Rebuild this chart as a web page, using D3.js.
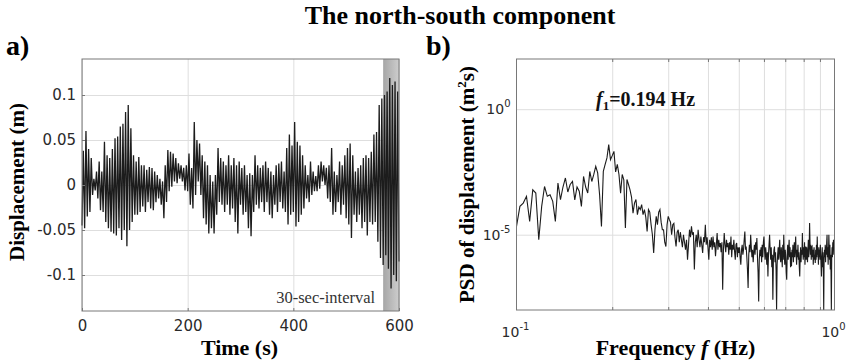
<!DOCTYPE html>
<html>
<head>
<meta charset="utf-8">
<script src="https://cdn.jsdelivr.net/npm/d3@7"></script>
<style>
  html, body { margin: 0; padding: 0; background: #fff; }
  svg { display: block; }
</style>
</head>
<body>
<svg id="chart" width="847" height="364"></svg>
<script>
// ---------------- DATA ----------------
// (a) displacement time series, sampled every 2.5 s from 0 to 600 s (m)
const timeStep = 2.5;
const displacement = [
  -0.045, 0.038, -0.048, 0.06, -0.035, 0.04, -0.03, 0.03, -0.011, 0.007,
  -0.006, 0.015, -0.015, 0.026, -0.028, 0.015, -0.03, 0.048, -0.041, 0.033,
  -0.048, 0.03, -0.052, 0.04, -0.054, 0.052, -0.056, 0.054, -0.048, 0.065,
  -0.061, 0.068, -0.05, 0.081, -0.068, 0.089, -0.05, 0.063, -0.041, 0.033,
  -0.033, 0.026, -0.033, 0.031, -0.03, 0.022, -0.024, 0.022, -0.03, 0.017,
  -0.019, 0.02, -0.026, 0.019, -0.028, 0.015, -0.019, 0.011, -0.015, 0.007,
  -0.022, 0.004, -0.037, 0.022, -0.019, 0.039, -0.007, 0.037, -0.002, 0.035,
  0.004, 0.03, 0.002, 0.024, 0.007, 0.022, 0.004, 0.019, -0.006, 0.022,
  -0.007, 0.035, -0.022, 0.019, -0.026, 0.07, -0.011, 0.05, 0.004, 0.046,
  -0.011, 0.033, -0.037, 0.026, -0.044, 0.022, -0.054, 0.011, -0.048, 0.004,
  -0.054, 0.011, -0.033, 0.041, -0.019, 0.03, -0.022, 0.026, -0.03, 0.022,
  -0.022, 0.033, -0.033, 0.022, -0.026, 0.03, -0.041, 0.022, -0.054, 0.026,
  -0.022, 0.019, -0.033, 0.022, -0.03, 0.011, -0.048, 0.013, -0.057, 0.011,
  -0.03, 0.033, -0.022, 0.022, -0.026, 0.019, -0.019, 0.022, -0.03, 0.026,
  -0.019, 0.019, -0.033, 0.015, -0.037, 0.011, -0.022, 0.022, -0.03, 0.024,
  -0.019, 0.026, -0.026, 0.015, -0.03, 0.041, -0.044, 0.056, -0.033, 0.044,
  -0.03, 0.07, -0.046, 0.048, -0.041, 0.044, -0.033, 0.033, -0.026, 0.022,
  -0.015, 0.011, -0.019, 0.026, -0.011, 0.015, -0.007, 0.01, -0.007, 0.022,
  -0.004, 0.026, 0.004, 0.022, 0.0, 0.019, -0.015, 0.022, -0.019, 0.041,
  -0.033, 0.015, -0.03, 0.011, -0.019, 0.026, -0.033, 0.022, -0.022, 0.033,
  -0.037, 0.041, -0.044, 0.046, -0.059, 0.033, -0.033, 0.015, -0.041, 0.019,
  -0.033, 0.022, -0.048, 0.03, -0.041, 0.033, -0.056, 0.03, -0.041, 0.037,
  -0.044, 0.056, -0.041, 0.059, -0.063, 0.089, -0.081, 0.096, -0.089, 0.1,
  -0.078, 0.104, -0.093, 0.119, -0.115, 0.111, -0.1, 0.115, -0.107, 0.104,
  -0.085
];
const intervalStart = 570, intervalEnd = 600;
const intervalLabel = "30-sec-interval";

// (b) PSD of displacement, log10 values, frequencies 0.1 .. 1.0 Hz every 0.0025 Hz
const freqStart = 0.1, freqStep = 0.0025;
const psdLog10 = [
  -4.67, -3.87, -3.74, -3.47, -4.47, -3.21, -3.34, -5.2, -3.87, -3.08,
  -3.47, -3.41, -3.67, -4.47, -2.94, -3.6, -3.1, -2.74, -3.3, -3.0,
  -2.88, -3.61, -3.1, -3.27, -3.87, -2.68, -3.1, -3.34, -2.48, -2.88,
  -2.6, -2.28, -2.54, -3.4, -4.67, -2.48, -2.2, -1.94, -1.41, -2.01,
  -1.85, -1.68, -2.5, -2.2, -2.6, -3.35, -2.6, -2.81, -4.73, -2.8,
  -3.0, -3.21, -3.5, -4.14, -3.74, -3.6, -4.2, -3.9, -4.0, -3.8,
  -4.2, -4.0, -4.3, -4.87, -4.0, -4.1, -4.6, -5.0, -5.73, -4.8,
  -4.27, -4.6, -4.1, -4.0, -4.5, -4.8, -4.8, -5.3, -5.47, -4.6, -4.27,
  -4.4, -4.5, -5.0, -4.6,   -4.55, -5.1, -5.47, -4.9,   -4.8, -5.3, -4.9, -5.2,
  -5.5, -5.0, -5.3, -5.6,   -5.2, -6.0, -5.4, -4.8,    -5.1, -4.67, -5.0, -4.9,
  -6.39, -5.3, -5.0, -5.5,  -4.8, -5.2, -5.5, -5.07,   -5.4, -5.73, -5.1, -5.3,
  -4.6, -5.4, -5.1, -5.5,   -6.0, -5.2, -5.5, -5.1,    -5.6, -5.07, -5.5, -5.3,
  -5.86, -5.4, -4.93, -5.6, -5.2, -5.5, -5.33, -5.7,   -5.3, -7.19, -5.6, -4.93,
  -5.4, -5.7, -5.2, -5.5,   -5.33, -5.8, -5.3, -5.6,   -5.07, -5.9, -5.4, -5.6,
  -5.2, -5.67, -6.0, -5.4,  -5.33, -5.9, -5.5, -5.73,  -5.5, -5.9, -6.2, -5.6,
  -5.4, -5.8, -5.6, -5.2,   -4.87, -5.6, -5.47, -5.9,  -6.4, -7.12, -5.8, -5.4,
  -5.7, -5.0, -5.5, -5.9,   -5.6, -6.1, -5.67, -5.4,   -5.8, -5.3, -5.6, -5.13,
  -5.9, -6.5, -7.66, -6.0,  -5.6, -5.86, -5.5, -6.1,   -5.4, -5.9, -5.3, -5.07,
  -5.6, -6.0, -5.5, -5.8,   -6.2, -5.7, -6.66, -5.8,   -5.4, -5.0, -5.6, -6.0,
  -5.5, -6.3, -5.8, -7.59,  -6.0, -5.6, -5.47, -6.1,   -5.7, -6.4, -7.99, -6.2,
  -5.8, -5.5, -6.0, -5.6,   -5.2, -5.9, -6.1, -5.5,    -5.8, -6.3, -5.4, -6.0,
  -5.0, -5.7, -6.2, -5.6,   -5.9, -6.5, -6.79, -5.8,   -5.4, -6.0, -5.6, -5.2,
  -5.9, -5.5, -6.3, -5.7,   -6.26, -5.6, -5.9, -5.4,   -6.1, -5.7, -5.3, -5.9,
  -5.5, -5.07, -5.8, -6.2,  -5.6, -5.9, -5.4, -6.0,    -5.7, -6.3, -6.66, -5.9,
  -5.5, -6.1, -5.6, -5.8,   -4.93, -5.7, -6.0, -5.5,   -5.9, -5.3, -6.2, -5.6,
  -5.47, -6.0, -5.5, -5.8,  -6.1, -5.6, -5.2, -5.9,    -5.5, -4.53, -5.3, -5.8,
  -5.4, -6.0, -5.5, -5.47,  -5.9, -5.6, -6.2, -5.7,    -5.5, -6.0, -5.8, -6.13,
  -5.6, -6.0, -5.4, -5.9,   -5.07, -5.8, -5.6, -6.2,   -5.5, -5.9, -5.6, -6.0,
  -5.4, -5.8, -6.2, -6.66,  -5.9, -5.5, -6.3, -5.7,    -6.5, -8.0, -6.0, -5.6,
  -5.9, -5.4, -6.1, -5.47,  -5.8, -5.3, -5.0, -5.9,    -5.5, -6.2, -5.7, -5.0,
  -5.6, -6.0, -5.4, -6.39,  -5.8, -6.5, -8.0, -5.9,    -5.5, -5.9, -5.3, -5.6,
  -5.2, -5.8, -5.5, -5.7
];

// tick values / labels
const dispTicks = [-0.1, -0.05, 0, 0.05, 0.1];
const dispTickLabels = ["-0.1", "-0.05", "0", "0.05", "0.1"];
const timeTicks = [0, 200, 400, 600];
const psdTicks = [1e-5, 1e0];
const psdTickExponents = ["-5", "0"];
const freqTicks = [0.1, 1];
const freqTickExponents = ["-1", "0"];
const freqGrid = [0.2, 0.3, 0.4, 0.5, 0.6, 0.7, 0.8, 0.9];

const titleText = "The north-south component";
const peakLabel = { sym: "f", sub: "1", rest: "=0.194 Hz" };

// ---------------- DRAWING ----------------
const svg = d3.select("#chart");
const serif = "'Liberation Serif', 'Times New Roman', serif";
const sans = "'DejaVu Sans', 'Liberation Sans', Arial, sans-serif";
const tickColor = "#2a2a2a";
const gridColor = "#dedede";
const boxColor = "#787878";
const lineColor = "#1c1c1c";

// Title
svg.append("text").attr("x", 460).attr("y", 24).attr("text-anchor", "middle")
  .style("font-family", serif).style("font-weight", "bold").style("font-size", "26px")
  .attr("fill", "#000").text(titleText);

// ===== Panel a =====
const ax = { l: 82, r: 399, t: 59, b: 311 };
const xA = d3.scaleLinear().domain([0, 600]).range([ax.l, ax.r]);
const yA = d3.scaleLinear().domain([-0.14, 0.14]).range([ax.b, ax.t]);
const gA = svg.append("g");

// grid
gA.append("g").attr("transform", `translate(0,${ax.b})`)
  .call(d3.axisBottom(xA).tickValues(timeTicks).tickSize(-(ax.b - ax.t)).tickFormat(""))
  .call(g => g.select(".domain").remove())
  .call(g => g.selectAll("line").attr("stroke", gridColor));
gA.append("g").attr("transform", `translate(${ax.l},0)`)
  .call(d3.axisLeft(yA).tickValues(dispTicks).tickSize(-(ax.r - ax.l)).tickFormat(""))
  .call(g => g.select(".domain").remove())
  .call(g => g.selectAll("line").attr("stroke", gridColor));

// shaded 30-sec interval
const grad = svg.append("defs").append("linearGradient").attr("id", "band")
  .attr("x1", "0%").attr("x2", "100%").attr("y1", "0%").attr("y2", "0%");
grad.append("stop").attr("offset", "0%").attr("stop-color", "#a6a6a6");
grad.append("stop").attr("offset", "100%").attr("stop-color", "#cdcdcd");
gA.append("rect").attr("x", xA(intervalStart)).attr("y", ax.t)
  .attr("width", xA(intervalEnd) - xA(intervalStart)).attr("height", ax.b - ax.t)
  .attr("fill", "url(#band)");

// series
gA.append("path").datum(displacement)
  .attr("d", d3.line().x((d, i) => xA(i * timeStep)).y(d => yA(d)))
  .attr("fill", "none").attr("stroke", lineColor).attr("stroke-width", 1.3)
  .attr("stroke-linejoin", "miter");

// box
gA.append("rect").attr("x", ax.l).attr("y", ax.t).attr("width", ax.r - ax.l).attr("height", ax.b - ax.t)
  .attr("fill", "none").attr("stroke", boxColor).attr("stroke-width", 1);

// axes ticks (inward) + labels
gA.append("g").attr("transform", `translate(0,${ax.b})`)
  .call(d3.axisBottom(xA).tickValues(timeTicks).tickSize(-3).tickPadding(9))
  .call(g => g.select(".domain").remove())
  .call(g => g.selectAll("line").attr("stroke", boxColor))
  .call(g => g.selectAll("text").attr("fill", tickColor).style("font-family", sans).style("font-size", "15px"));
gA.append("g").attr("transform", `translate(${ax.l},0)`)
  .call(d3.axisLeft(yA).tickValues(dispTicks).tickSize(-3).tickPadding(6)
    .tickFormat((d, i) => dispTickLabels[i]))
  .call(g => g.select(".domain").remove())
  .call(g => g.selectAll("line").attr("stroke", boxColor))
  .call(g => g.selectAll("text").attr("fill", tickColor).style("font-family", sans).style("font-size", "15px"));

// interval label
gA.append("text").attr("x", xA(intervalStart) - 8).attr("y", 303).attr("text-anchor", "end")
  .style("font-family", serif).style("font-size", "16.5px").attr("fill", "#333").text(intervalLabel);

// axis titles
gA.append("text").attr("transform", `translate(24,${(ax.t + ax.b) / 2 - 3}) rotate(-90)`)
  .attr("text-anchor", "middle").style("font-family", serif).style("font-weight", "bold")
  .style("font-size", "21px").text("Displacement (m)");
gA.append("text").attr("x", (ax.l + ax.r) / 2 - 1).attr("y", 355).attr("text-anchor", "middle")
  .style("font-family", serif).style("font-weight", "bold").style("font-size", "22px").text("Time (s)");
svg.append("text").attr("x", 6).attr("y", 55)
  .style("font-family", serif).style("font-weight", "bold").style("font-size", "28px").text("a)");

// ===== Panel b =====
const bx = { l: 516.5, r: 834.5, t: 59, b: 310 };
const xB = d3.scaleLog().domain([0.1, 1]).range([bx.l, bx.r]);
const yB = d3.scaleLog().domain([1e-8, 1e2]).range([bx.b, bx.t]);
const gB = svg.append("g");

gB.append("g").attr("transform", `translate(0,${bx.b})`)
  .call(d3.axisBottom(xB).tickValues(freqGrid).tickSize(-(bx.b - bx.t)).tickFormat(""))
  .call(g => g.select(".domain").remove())
  .call(g => g.selectAll("line").attr("stroke", gridColor));
gB.append("g").attr("transform", `translate(${bx.l},0)`)
  .call(d3.axisLeft(yB).tickValues(psdTicks).tickSize(-(bx.r - bx.l)).tickFormat(""))
  .call(g => g.select(".domain").remove())
  .call(g => g.selectAll("line").attr("stroke", gridColor));

gB.append("path").datum(psdLog10)
  .attr("d", d3.line().x((d, i) => xB(freqStart + i * freqStep)).y(d => yB(Math.pow(10, d))))
  .attr("fill", "none").attr("stroke", lineColor).attr("stroke-width", 1.1);

gB.append("rect").attr("x", bx.l).attr("y", bx.t).attr("width", bx.r - bx.l).attr("height", bx.b - bx.t)
  .attr("fill", "none").attr("stroke", boxColor).attr("stroke-width", 1);

// inward minor ticks on top & bottom
gB.append("g").attr("transform", `translate(0,${bx.b})`)
  .call(d3.axisBottom(xB).tickValues(freqGrid).tickSize(-3).tickFormat(""))
  .call(g => g.select(".domain").remove())
  .call(g => g.selectAll("line").attr("stroke", boxColor));
gB.append("g").attr("transform", `translate(0,${bx.t})`)
  .call(d3.axisTop(xB).tickValues(freqGrid).tickSize(-3).tickFormat(""))
  .call(g => g.select(".domain").remove())
  .call(g => g.selectAll("line").attr("stroke", boxColor));

// y tick labels 10^k
const yLab = gB.append("g");
psdTicks.forEach((v, i) => {
  const t = yLab.append("text").attr("x", bx.l - 6).attr("y", yB(v) + 5).attr("text-anchor", "end")
    .style("font-family", sans).style("font-size", "14px").attr("fill", tickColor);
  t.append("tspan").text("10");
  t.append("tspan").attr("dy", -7).style("font-size", "10px").text(psdTickExponents[i]);
});
// x tick labels 10^k
freqTicks.forEach((v, i) => {
  const t = gB.append("text").attr("x", xB(v) - 1).attr("y", 337).attr("text-anchor", "middle")
    .style("font-family", sans).style("font-size", "14px").attr("fill", tickColor);
  t.append("tspan").text("10");
  t.append("tspan").attr("dy", -7).style("font-size", "10px").text(freqTickExponents[i]);
});

// peak annotation
const pk = gB.append("text").attr("x", 596).attr("y", 106)
  .style("font-family", serif).style("font-weight", "bold").style("font-size", "20px").attr("fill", "#111");
pk.append("tspan").style("font-style", "italic").text(peakLabel.sym);
pk.append("tspan").attr("dy", 4).style("font-size", "13px").text(peakLabel.sub);
pk.append("tspan").attr("dy", -4).text(peakLabel.rest);

// axis titles
const yt = gB.append("text").attr("transform", `translate(474,${(bx.t + bx.b) / 2}) rotate(-90)`)
  .attr("text-anchor", "middle").style("font-family", serif).style("font-weight", "bold").style("font-size", "21px");
yt.append("tspan").text("PSD of displacement (m");
yt.append("tspan").attr("dy", -8).style("font-size", "13px").text("2");
yt.append("tspan").attr("dy", 8).text("s)");

const xt = gB.append("text").attr("x", (bx.l + bx.r) / 2).attr("y", 355).attr("text-anchor", "middle")
  .style("font-family", serif).style("font-weight", "bold").style("font-size", "22px");
xt.append("tspan").text("Frequency ");
xt.append("tspan").style("font-style", "italic").text("f");
xt.append("tspan").text(" (Hz)");

svg.append("text").attr("x", 426).attr("y", 55)
  .style("font-family", serif).style("font-weight", "bold").style("font-size", "28px").text("b)");
</script>
</body>
</html>
